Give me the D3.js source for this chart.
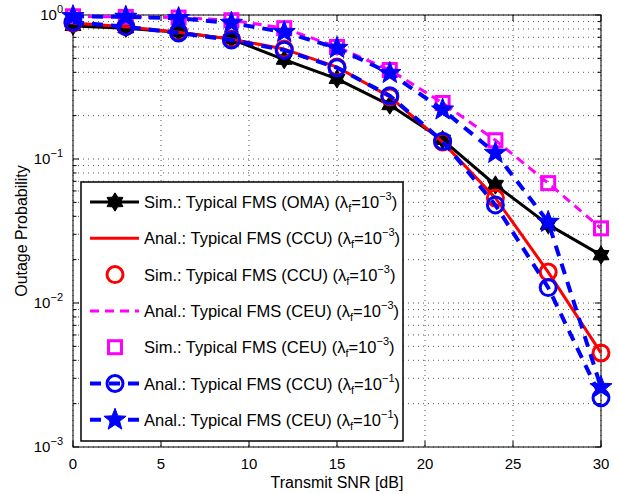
<!DOCTYPE html>
<html>
<head>
<meta charset="utf-8">
<script src="https://cdn.jsdelivr.net/npm/d3@7"></script>
<style>
  body { margin: 0; background: #fff; }
  text { font-family: "Liberation Sans", Arial, sans-serif; }
</style>
</head>
<body>
<div id="chart"></div>
<script>
// Data
const snr = [0, 3, 6, 9, 12, 15, 18, 21, 24, 27, 30];
const omaSim = [0.84, 0.81, 0.76, 0.68, 0.49, 0.36, 0.237, 0.136, 0.066, 0.035, 0.0215];
const ccuAnal = [0.88, 0.83, 0.76, 0.68, 0.58, 0.435, 0.27, 0.131, 0.0536, 0.0164, 0.0045];
const ccuSim = [0.88, 0.83, 0.76, 0.68, 0.58, 0.435, 0.27, 0.131, 0.0536, 0.0164, 0.0045];
const ceuAnal = [0.98, 0.97, 0.96, 0.92, 0.81, 0.6, 0.415, 0.245, 0.135, 0.068, 0.033];
const ceuSim = [0.98, 0.97, 0.96, 0.92, 0.81, 0.6, 0.415, 0.245, 0.135, 0.068, 0.033];
const ccuAnalHigh = [0.89, 0.83, 0.75, 0.67, 0.57, 0.43, 0.275, 0.133, 0.048, 0.0128, 0.0022];
const ceuAnalHigh = [0.98, 0.97, 0.95, 0.88, 0.76, 0.59, 0.395, 0.22, 0.11, 0.0365, 0.0026];
const xTicks = [0, 5, 10, 15, 20, 25, 30];
const yExps = [0, -1, -2, -3];

const legendItems = [
  { name: "Sim.: Typical FMS (OMA)", exp: "−3" },
  { name: "Anal.: Typical FMS (CCU)", exp: "−3" },
  { name: "Sim.: Typical FMS (CCU)", exp: "−3" },
  { name: "Anal.: Typical FMS (CEU)", exp: "−3" },
  { name: "Sim.: Typical FMS (CEU)", exp: "−3" },
  { name: "Anal.: Typical FMS (CCU)", exp: "−1" },
  { name: "Anal.: Typical FMS (CEU)", exp: "−1" }
];

const width = 618, height = 494;
const margin = { top: 15, right: 17, bottom: 47, left: 73 };

const svg = d3.select("#chart").append("svg")
  .attr("width", width)
  .attr("height", height);

const x = d3.scaleLinear().domain([0, 30]).range([margin.left, width - margin.right]);
const y = d3.scaleLog().domain([1e-3, 1]).range([height - margin.bottom, margin.top]);

// Gridlines
const minor = [];
[1e-3, 1e-2, 1e-1].forEach(d => { for (let k = 1; k <= 9; k++) minor.push(d * k); });
minor.push(1);

svg.append("g")
  .selectAll("line")
  .data(minor)
  .join("line")
  .attr("x1", margin.left)
  .attr("x2", width - margin.right)
  .attr("y1", d => y(d))
  .attr("y2", d => y(d))
  .attr("stroke", "#555")
  .attr("stroke-width", 1)
  .attr("stroke-dasharray", "1,4");

svg.append("g")
  .selectAll("line")
  .data(xTicks)
  .join("line")
  .attr("x1", d => x(d))
  .attr("x2", d => x(d))
  .attr("y1", margin.top)
  .attr("y2", height - margin.bottom)
  .attr("stroke", "#555")
  .attr("stroke-width", 1)
  .attr("stroke-dasharray", "1,4");

// Tick marks (inside, on both sides)
const tickG = svg.append("g").attr("stroke", "#000").attr("stroke-width", 1);
minor.forEach(d => {
  const major = yExps.some(e => Math.abs(Math.log10(d) - e) < 1e-9);
  const len = major ? 6 : 3.5;
  tickG.append("line").attr("x1", margin.left).attr("x2", margin.left + len).attr("y1", y(d)).attr("y2", y(d));
  tickG.append("line").attr("x1", width - margin.right).attr("x2", width - margin.right - len).attr("y1", y(d)).attr("y2", y(d));
});
xTicks.forEach(d => {
  tickG.append("line").attr("x1", x(d)).attr("x2", x(d)).attr("y1", height - margin.bottom).attr("y2", height - margin.bottom - 6);
  tickG.append("line").attr("x1", x(d)).attr("x2", x(d)).attr("y1", margin.top).attr("y2", margin.top + 6);
});

// Axis box
svg.append("rect")
  .attr("x", margin.left)
  .attr("y", margin.top)
  .attr("width", width - margin.left - margin.right)
  .attr("height", height - margin.top - margin.bottom)
  .attr("fill", "none")
  .attr("stroke", "#000")
  .attr("stroke-width", 1);

// Tick labels
svg.append("g")
  .selectAll("text")
  .data(xTicks)
  .join("text")
  .attr("x", d => x(d))
  .attr("y", height - margin.bottom + 22)
  .attr("text-anchor", "middle")
  .attr("font-size", "15px")
  .text(d => d);

const yl = svg.append("g")
  .selectAll("text")
  .data(yExps)
  .join("text")
  .attr("x", margin.left - 10)
  .attr("y", d => y(Math.pow(10, d)) + 5)
  .attr("text-anchor", "end")
  .attr("font-size", "15px");
yl.append("tspan").text("10");
yl.append("tspan").attr("dy", -7).attr("font-size", "11px").text(d => d === 0 ? "0" : "−" + (-d));

// Axis titles
svg.append("text")
  .attr("x", (margin.left + width - margin.right) / 2)
  .attr("y", height - 6)
  .attr("text-anchor", "middle")
  .attr("font-size", "16px")
  .text("Transmit SNR [dB]");

svg.append("text")
  .attr("transform", `translate(27,${(margin.top + height - margin.bottom) / 2}) rotate(-90)`)
  .attr("text-anchor", "middle")
  .attr("font-size", "16px")
  .text("Outage Probability");

// Marker shapes
const hexStar = d3.symbol().type({
  draw(ctx, size) {
    const r = Math.sqrt(size) * 0.75, ri = r * 0.6;
    for (let i = 0; i < 12; i++) {
      const a = -Math.PI / 2 + i * Math.PI / 6;
      const rr = i % 2 === 0 ? r : ri;
      if (i === 0) ctx.moveTo(rr * Math.cos(a), rr * Math.sin(a));
      else ctx.lineTo(rr * Math.cos(a), rr * Math.sin(a));
    }
    ctx.closePath();
  }
});
const pentStar = d3.symbol().type({
  draw(ctx, size) {
    const r = Math.sqrt(size) * 0.75, ri = r * 0.42;
    for (let i = 0; i < 10; i++) {
      const a = -Math.PI / 2 + i * Math.PI / 5;
      const rr = i % 2 === 0 ? r : ri;
      if (i === 0) ctx.moveTo(rr * Math.cos(a), rr * Math.sin(a));
      else ctx.lineTo(rr * Math.cos(a), rr * Math.sin(a));
    }
    ctx.closePath();
  }
});

const series = [
  { data: omaSim, color: "#000", width: 3, dash: null, marker: "hex" },
  { data: ccuAnal, color: "#ff0000", width: 3, dash: null, marker: null },
  { data: ccuSim, color: "#ff0000", width: 0, dash: null, marker: "circle" },
  { data: ceuAnal, color: "#ff00ff", width: 3, dash: "9,6", marker: null },
  { data: ceuSim, color: "#ff00ff", width: 0, dash: null, marker: "square" },
  { data: ccuAnalHigh, color: "#0000ff", width: 4, dash: "11,8", marker: "circle" },
  { data: ceuAnalHigh, color: "#0000ff", width: 4, dash: "11,8", marker: "star" }
];

function drawMarker(g, type, color, cx, cy) {
  if (type === "hex") {
    g.append("path").attr("d", hexStar.size(150)()).attr("transform", `translate(${cx},${cy})`)
      .attr("fill", color).attr("stroke", color).attr("stroke-width", 1);
  } else if (type === "circle") {
    g.append("circle").attr("cx", cx).attr("cy", cy).attr("r", 8)
      .attr("fill", "none").attr("stroke", color).attr("stroke-width", 3);
  } else if (type === "square") {
    g.append("rect").attr("x", cx - 6.5).attr("y", cy - 6.5)
      .attr("width", 13).attr("height", 13)
      .attr("fill", "none").attr("stroke", color).attr("stroke-width", 3);
  } else if (type === "star") {
    g.append("path").attr("d", pentStar.size(240)()).attr("transform", `translate(${cx},${cy})`)
      .attr("fill", color).attr("stroke", color).attr("stroke-width", 1);
  }
}

const plot = svg.append("g");
const line = d3.line().x((d, i) => x(snr[i])).y(d => y(d));

series.forEach(s => {
  const g = plot.append("g");
  if (s.width > 0) {
    g.append("path")
      .datum(s.data)
      .attr("fill", "none")
      .attr("stroke", s.color)
      .attr("stroke-width", s.width)
      .attr("stroke-dasharray", s.dash)
      .attr("stroke-linejoin", "round")
      .attr("d", line);
  }
  if (s.marker) {
    s.data.forEach((d, i) => drawMarker(g, s.marker, s.color, x(snr[i]), y(d)));
  }
});

// Legend
const lg = svg.append("g");
const lx = 81, ly = 182, lw = 322, lh = 259;
lg.append("rect")
  .attr("x", lx).attr("y", ly).attr("width", lw).attr("height", lh)
  .attr("fill", "#fff").attr("stroke", "#000").attr("stroke-width", 1.5);

legendItems.forEach((item, i) => {
  const s = series[i];
  const cy = 202 + i * 36.3;
  if (s.width > 0) {
    lg.append("line")
      .attr("x1", 90).attr("x2", 139).attr("y1", cy).attr("y2", cy)
      .attr("stroke", s.color).attr("stroke-width", s.width)
      .attr("stroke-dasharray", s.dash);
  }
  if (s.marker) drawMarker(lg, s.marker, s.color, 115, cy);
  const t = lg.append("text")
    .attr("x", 144)
    .attr("y", cy + 6)
    .attr("font-size", "16.5px");
  t.append("tspan").text(item.name + " (λ");
  t.append("tspan").attr("dy", 4).attr("font-size", "11px").text("f");
  t.append("tspan").attr("dy", -4).text("=10");
  t.append("tspan").attr("dy", -8).attr("font-size", "11px").text(item.exp);
  t.append("tspan").attr("dy", 8).text(")");
});
</script>
</body>
</html>
